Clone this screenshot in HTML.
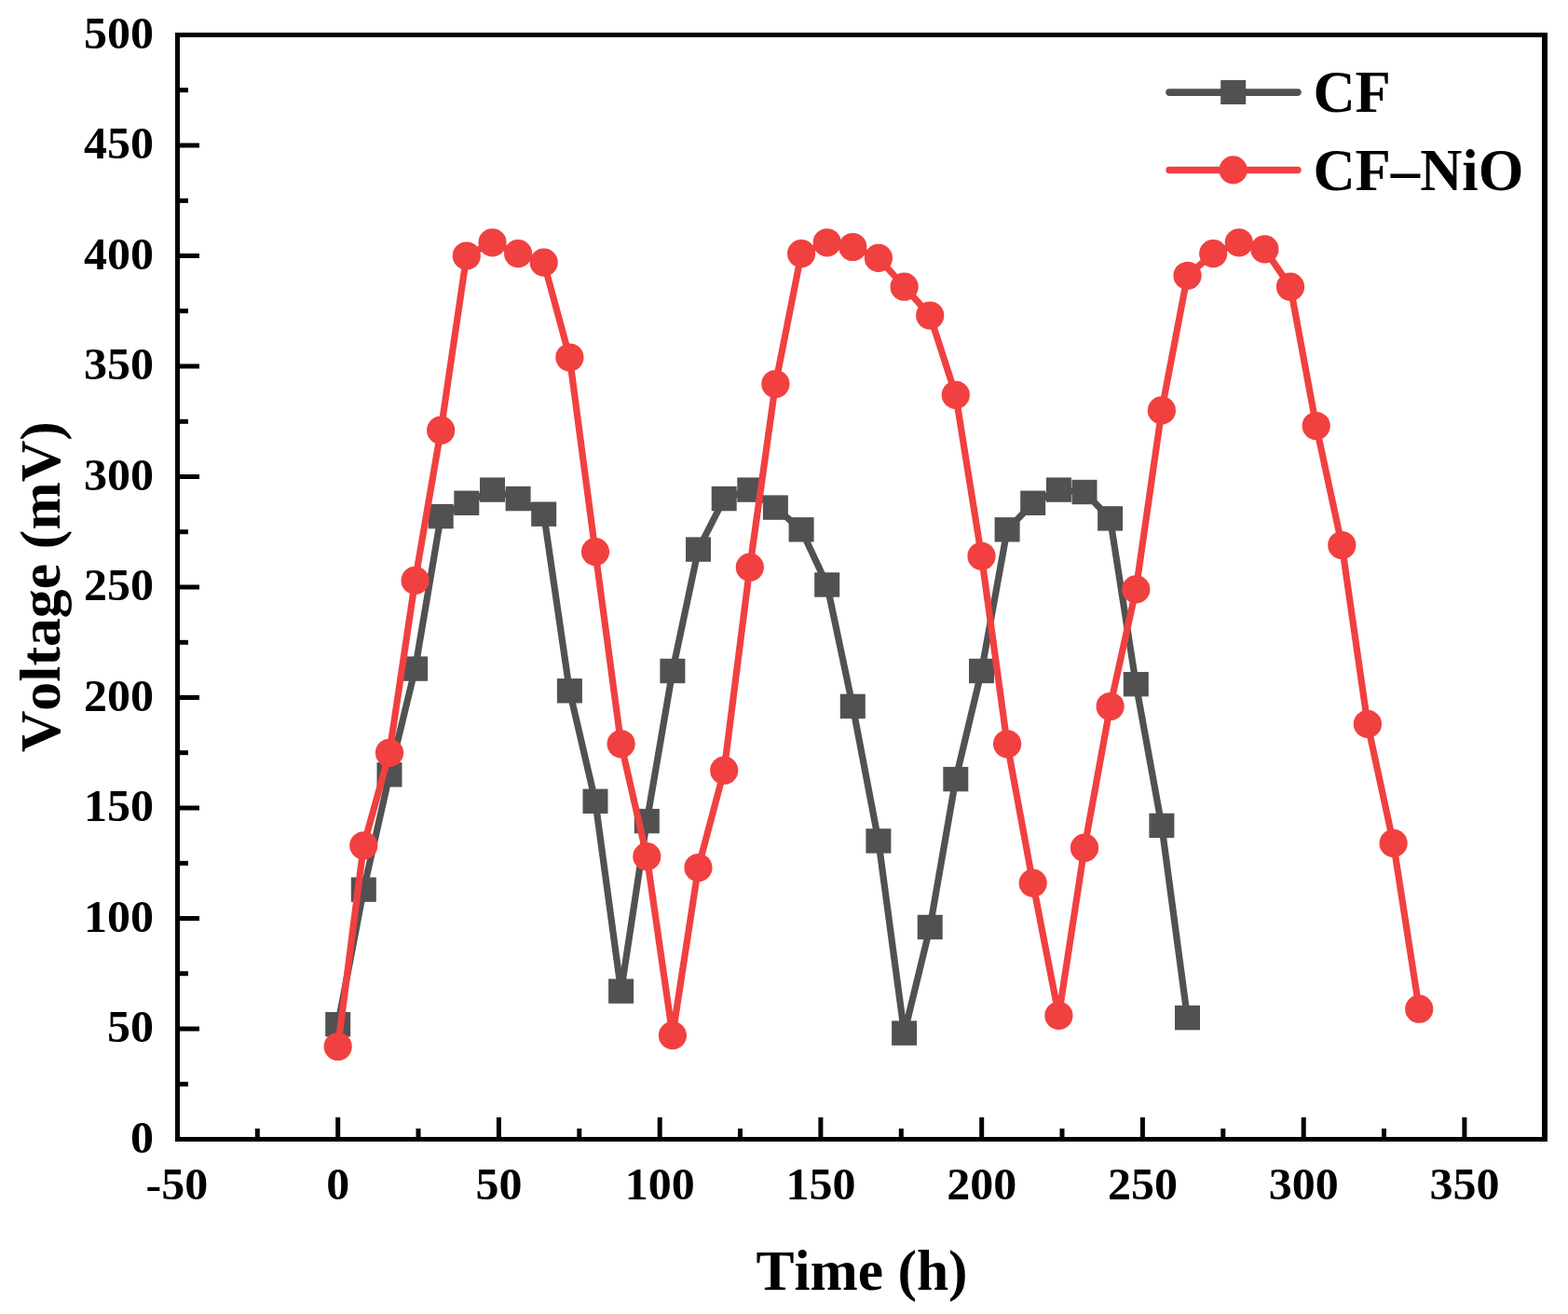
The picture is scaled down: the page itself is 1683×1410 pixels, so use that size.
<!DOCTYPE html>
<html lang="en"><head><meta charset="utf-8"><title>Voltage vs Time</title>
<style>html,body{margin:0;padding:0;background:#fff}body{width:1683px;height:1410px;overflow:hidden}svg{display:block}text{font-kerning:none;font-family:"Liberation Serif",serif;font-weight:bold;fill:#000}</style></head><body>
<svg width="1683" height="1410" viewBox="0 0 1683 1410">
<rect x="0" y="0" width="1683" height="1410" fill="#fff"/>
<polyline points="362.7,1099.3 390.3,954.7 418.0,831.5 445.6,717.7 473.2,554.2 500.8,539.9 528.5,525.7 556.1,535.2 583.7,551.8 611.4,741.4 639.0,859.9 666.6,1063.7 694.3,881.2 721.9,720.1 749.5,589.7 777.2,535.2 804.8,525.7 832.4,544.7 860.1,568.4 887.7,627.6 915.3,758.0 942.9,902.5 970.6,1108.7 998.2,995.0 1025.8,836.2 1053.5,720.1 1081.1,568.4 1108.7,539.9 1136.4,525.7 1164.0,528.1 1191.6,556.5 1219.3,734.3 1246.9,886.0 1274.5,1092.2" fill="none" stroke="#515151" stroke-width="7.2" stroke-linejoin="round" stroke-linecap="round"/>
<g fill="#515151">
<rect x="349.2" y="1086.0" width="27" height="26.4"/>
<rect x="376.8" y="941.4" width="27" height="26.4"/>
<rect x="404.5" y="818.1" width="27" height="26.4"/>
<rect x="432.1" y="704.4" width="27" height="26.4"/>
<rect x="459.7" y="540.9" width="27" height="26.4"/>
<rect x="487.3" y="526.6" width="27" height="26.4"/>
<rect x="515.0" y="512.4" width="27" height="26.4"/>
<rect x="542.6" y="521.9" width="27" height="26.4"/>
<rect x="570.2" y="538.5" width="27" height="26.4"/>
<rect x="597.9" y="728.1" width="27" height="26.4"/>
<rect x="625.5" y="846.6" width="27" height="26.4"/>
<rect x="653.1" y="1050.4" width="27" height="26.4"/>
<rect x="680.8" y="867.9" width="27" height="26.4"/>
<rect x="708.4" y="706.8" width="27" height="26.4"/>
<rect x="736.0" y="576.4" width="27" height="26.4"/>
<rect x="763.7" y="521.9" width="27" height="26.4"/>
<rect x="791.3" y="512.4" width="27" height="26.4"/>
<rect x="818.9" y="531.4" width="27" height="26.4"/>
<rect x="846.6" y="555.1" width="27" height="26.4"/>
<rect x="874.2" y="614.3" width="27" height="26.4"/>
<rect x="901.8" y="744.7" width="27" height="26.4"/>
<rect x="929.4" y="889.2" width="27" height="26.4"/>
<rect x="957.1" y="1095.4" width="27" height="26.4"/>
<rect x="984.7" y="981.7" width="27" height="26.4"/>
<rect x="1012.3" y="822.9" width="27" height="26.4"/>
<rect x="1040.0" y="706.8" width="27" height="26.4"/>
<rect x="1067.6" y="555.1" width="27" height="26.4"/>
<rect x="1095.2" y="526.6" width="27" height="26.4"/>
<rect x="1122.9" y="512.4" width="27" height="26.4"/>
<rect x="1150.5" y="514.8" width="27" height="26.4"/>
<rect x="1178.1" y="543.2" width="27" height="26.4"/>
<rect x="1205.8" y="721.0" width="27" height="26.4"/>
<rect x="1233.4" y="872.7" width="27" height="26.4"/>
<rect x="1261.0" y="1078.9" width="27" height="26.4"/>
</g>
<polyline points="362.7,1123.0 390.3,907.3 418.0,807.8 445.6,622.9 473.2,461.7 500.8,274.5 528.5,260.3 556.1,272.1 583.7,281.6 611.4,383.5 639.0,592.1 666.6,798.3 694.3,919.1 721.9,1111.1 749.5,931.0 777.2,826.7 804.8,608.7 832.4,412.0 860.1,272.1 887.7,260.3 915.3,265.0 942.9,276.9 970.6,307.7 998.2,338.5 1025.8,423.8 1053.5,596.8 1081.1,798.3 1108.7,947.6 1136.4,1089.8 1164.0,909.7 1191.6,758.0 1219.3,632.4 1246.9,440.4 1274.5,295.8 1302.2,272.1 1329.8,260.3 1357.4,267.4 1385.0,307.7 1412.7,457.0 1440.3,585.0 1467.9,776.9 1495.6,904.9 1523.2,1082.7" fill="none" stroke="#F14040" stroke-width="7.2" stroke-linejoin="round" stroke-linecap="round"/>
<g fill="#F14040">
<circle cx="362.7" cy="1123.0" r="15.1"/>
<circle cx="390.3" cy="907.3" r="15.1"/>
<circle cx="418.0" cy="807.8" r="15.1"/>
<circle cx="445.6" cy="622.9" r="15.1"/>
<circle cx="473.2" cy="461.7" r="15.1"/>
<circle cx="500.8" cy="274.5" r="15.1"/>
<circle cx="528.5" cy="260.3" r="15.1"/>
<circle cx="556.1" cy="272.1" r="15.1"/>
<circle cx="583.7" cy="281.6" r="15.1"/>
<circle cx="611.4" cy="383.5" r="15.1"/>
<circle cx="639.0" cy="592.1" r="15.1"/>
<circle cx="666.6" cy="798.3" r="15.1"/>
<circle cx="694.3" cy="919.1" r="15.1"/>
<circle cx="721.9" cy="1111.1" r="15.1"/>
<circle cx="749.5" cy="931.0" r="15.1"/>
<circle cx="777.2" cy="826.7" r="15.1"/>
<circle cx="804.8" cy="608.7" r="15.1"/>
<circle cx="832.4" cy="412.0" r="15.1"/>
<circle cx="860.1" cy="272.1" r="15.1"/>
<circle cx="887.7" cy="260.3" r="15.1"/>
<circle cx="915.3" cy="265.0" r="15.1"/>
<circle cx="942.9" cy="276.9" r="15.1"/>
<circle cx="970.6" cy="307.7" r="15.1"/>
<circle cx="998.2" cy="338.5" r="15.1"/>
<circle cx="1025.8" cy="423.8" r="15.1"/>
<circle cx="1053.5" cy="596.8" r="15.1"/>
<circle cx="1081.1" cy="798.3" r="15.1"/>
<circle cx="1108.7" cy="947.6" r="15.1"/>
<circle cx="1136.4" cy="1089.8" r="15.1"/>
<circle cx="1164.0" cy="909.7" r="15.1"/>
<circle cx="1191.6" cy="758.0" r="15.1"/>
<circle cx="1219.3" cy="632.4" r="15.1"/>
<circle cx="1246.9" cy="440.4" r="15.1"/>
<circle cx="1274.5" cy="295.8" r="15.1"/>
<circle cx="1302.2" cy="272.1" r="15.1"/>
<circle cx="1329.8" cy="260.3" r="15.1"/>
<circle cx="1357.4" cy="267.4" r="15.1"/>
<circle cx="1385.0" cy="307.7" r="15.1"/>
<circle cx="1412.7" cy="457.0" r="15.1"/>
<circle cx="1440.3" cy="585.0" r="15.1"/>
<circle cx="1467.9" cy="776.9" r="15.1"/>
<circle cx="1495.6" cy="904.9" r="15.1"/>
<circle cx="1523.2" cy="1082.7" r="15.1"/>
</g>
<g fill="#000" shape-rendering="crispEdges">
<rect x="188" y="35" width="1473" height="5"/>
<rect x="188" y="1220" width="1473" height="5"/>
<rect x="188" y="35" width="5" height="1190"/>
<rect x="1655" y="35" width="6" height="1190"/>
</g>
<g fill="#000">
<rect x="273.8" y="1211.0" width="5" height="10.0"/>
<rect x="360.2" y="1199.0" width="5" height="22.0"/>
<rect x="446.5" y="1211.0" width="5" height="10.0"/>
<rect x="532.9" y="1199.0" width="5" height="22.0"/>
<rect x="619.3" y="1211.0" width="5" height="10.0"/>
<rect x="705.7" y="1199.0" width="5" height="22.0"/>
<rect x="792.0" y="1211.0" width="5" height="10.0"/>
<rect x="878.4" y="1199.0" width="5" height="22.0"/>
<rect x="964.8" y="1211.0" width="5" height="10.0"/>
<rect x="1051.2" y="1199.0" width="5" height="22.0"/>
<rect x="1137.5" y="1211.0" width="5" height="10.0"/>
<rect x="1223.9" y="1199.0" width="5" height="22.0"/>
<rect x="1310.3" y="1211.0" width="5" height="10.0"/>
<rect x="1396.7" y="1199.0" width="5" height="22.0"/>
<rect x="1483.0" y="1211.0" width="5" height="10.0"/>
<rect x="1569.4" y="1199.0" width="5" height="22.0"/>
<rect x="192" y="1160.8" width="10.0" height="5"/>
<rect x="192" y="1101.5" width="22.0" height="5"/>
<rect x="192" y="1042.2" width="10.0" height="5"/>
<rect x="192" y="983.0" width="22.0" height="5"/>
<rect x="192" y="923.8" width="10.0" height="5"/>
<rect x="192" y="864.5" width="22.0" height="5"/>
<rect x="192" y="805.2" width="10.0" height="5"/>
<rect x="192" y="746.0" width="22.0" height="5"/>
<rect x="192" y="686.8" width="10.0" height="5"/>
<rect x="192" y="627.5" width="22.0" height="5"/>
<rect x="192" y="568.2" width="10.0" height="5"/>
<rect x="192" y="509.0" width="22.0" height="5"/>
<rect x="192" y="449.8" width="10.0" height="5"/>
<rect x="192" y="390.5" width="22.0" height="5"/>
<rect x="192" y="331.2" width="10.0" height="5"/>
<rect x="192" y="272.0" width="22.0" height="5"/>
<rect x="192" y="212.8" width="10.0" height="5"/>
<rect x="192" y="153.5" width="22.0" height="5"/>
<rect x="192" y="94.2" width="10.0" height="5"/>
</g>
<g font-size="50" text-anchor="middle">
<text transform="translate(189.9,1286.7) scale(1,0.965)">-50</text>
<text transform="translate(362.7,1286.7) scale(1,0.965)">0</text>
<text transform="translate(535.4,1286.7) scale(1,0.965)">50</text>
<text transform="translate(708.2,1286.7) scale(1,0.965)">100</text>
<text transform="translate(880.9,1286.7) scale(1,0.965)">150</text>
<text transform="translate(1053.7,1286.7) scale(1,0.965)">200</text>
<text transform="translate(1226.4,1286.7) scale(1,0.965)">250</text>
<text transform="translate(1399.2,1286.7) scale(1,0.965)">300</text>
<text transform="translate(1571.9,1286.7) scale(1,0.965)">350</text>
</g>
<g font-size="50" text-anchor="end">
<text transform="translate(165,1236.5) scale(1,0.965)">0</text>
<text transform="translate(165,1118.0) scale(1,0.965)">50</text>
<text transform="translate(165,999.5) scale(1,0.965)">100</text>
<text transform="translate(165,881.0) scale(1,0.965)">150</text>
<text transform="translate(165,762.5) scale(1,0.965)">200</text>
<text transform="translate(165,644.0) scale(1,0.965)">250</text>
<text transform="translate(165,525.5) scale(1,0.965)">300</text>
<text transform="translate(165,407.0) scale(1,0.965)">350</text>
<text transform="translate(165,288.5) scale(1,0.965)">400</text>
<text transform="translate(165,170.0) scale(1,0.965)">450</text>
<text transform="translate(165,51.5) scale(1,0.965)">500</text>
</g>
<text x="925" y="1384" font-size="61.5" text-anchor="middle">Time (h)</text>
<text transform="translate(63.6,629.7) rotate(-90)" font-size="61.8" text-anchor="middle">Voltage (mV)</text>
<line x1="1255" y1="99.1" x2="1393" y2="99.1" stroke="#515151" stroke-width="7.6" stroke-linecap="round"/>
<rect x="1310.2" y="86" width="27" height="26" fill="#515151"/>
<text x="1409.4" y="120.3" font-size="62.6">CF</text>
<line x1="1255" y1="182.5" x2="1393" y2="182.5" stroke="#F14040" stroke-width="7.4" stroke-linecap="round"/>
<circle cx="1323.6" cy="182.4" r="15.1" fill="#F14040"/>
<text x="1409.4" y="203.8" font-size="62.6">CF–NiO</text>
</svg></body></html>
